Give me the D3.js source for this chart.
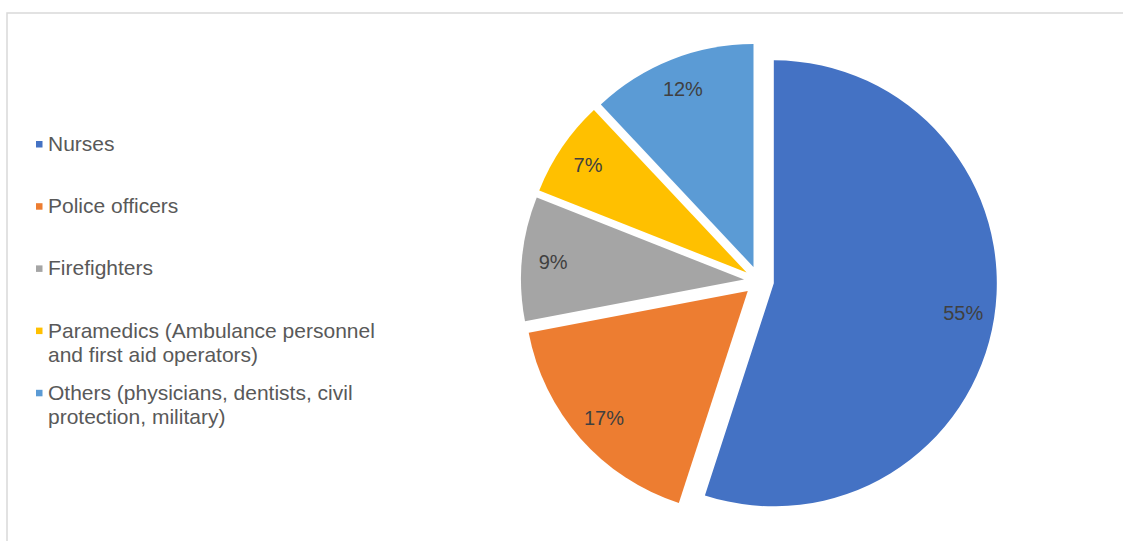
<!DOCTYPE html>
<html>
<head>
<meta charset="utf-8">
<script src="https://cdn.jsdelivr.net/npm/d3@7"></script>
<style>
  body { margin: 0; background: #fff; }
  text { font-family: "Liberation Sans", Arial, Helvetica, sans-serif; }
</style>
</head>
<body>
<div id="chart"></div>
<script>
const width = 1123
const height = 541

// data
const categories = ["Nurses", "Police officers", "Firefighters", "Paramedics (Ambulance personnel and first aid operators)", "Others (physicians, dentists, civil protection, military)"]
const legendLines = [
    ["Nurses"],
    ["Police officers"],
    ["Firefighters"],
    ["Paramedics (Ambulance personnel", "and first aid operators)"],
    ["Others (physicians, dentists, civil", "protection, military)"]
]
const values = [55, 17, 9, 7, 12]
const colors = ["#4472C4", "#ED7D31", "#A5A5A5", "#FFC000", "#5B9BD5"]

const center = {x: 759, y: 281}
const radius = 223
const explode = 15

const svg = d3.select("div#chart").append("svg").attr("width", width).attr("height", height)

// chart frame (cropped at right / bottom)
svg.append("rect")
    .attr("x", 7).attr("y", 13)
    .attr("width", width + 20).attr("height", height + 20)
    .attr("fill", "none")
    .attr("stroke", "#d9d9d9")
    .attr("stroke-width", 1.5)

const pie = d3.pie().sort(null).value(d => d)
const arc = d3.arc().innerRadius(0).outerRadius(radius)
const arcs = pie(values)

const pieGroup = svg.append("g").attr("transform", `translate(${center.x}, ${center.y})`)

const offset = d => {
    const a = (d.startAngle + d.endAngle) / 2
    return [Math.sin(a) * explode, -Math.cos(a) * explode]
}

pieGroup.selectAll("path").data(arcs).enter()
    .append("path")
    .attr("d", arc)
    .attr("fill", (d, i) => colors[i])
    .attr("transform", d => `translate(${offset(d)})`)

pieGroup.selectAll("text.label").data(arcs).enter()
    .append("text")
    .attr("class", "label")
    .attr("x", d => {
        const a = (d.startAngle + d.endAngle) / 2
        return offset(d)[0] + Math.sin(a) * radius * 0.86
    })
    .attr("y", d => {
        const a = (d.startAngle + d.endAngle) / 2
        return offset(d)[1] - Math.cos(a) * radius * 0.86
    })
    .attr("dy", "0.35em")
    .attr("text-anchor", "middle")
    .attr("font-size", 20)
    .attr("fill", "#404040")
    .text(d => d.data + "%")

// legend
const legend = svg.append("g").attr("class", "legend").attr("transform", "translate(36, 151)")
const items = legend.selectAll("g").data(categories).enter()
    .append("g")
    .attr("transform", (d, i) => `translate(0, ${i * 62.2})`)

items.append("rect")
    .attr("x", 0).attr("y", -10)
    .attr("width", 6.5).attr("height", 6.5)
    .attr("fill", (d, i) => colors[i])

items.append("text")
    .attr("x", 12)
    .attr("font-size", 21)
    .attr("fill", "#595959")
    .selectAll("tspan").data((d, i) => legendLines[i]).enter()
    .append("tspan")
    .attr("x", 12)
    .attr("dy", (d, j) => j === 0 ? 0 : 24)
    .text(d => d)
</script>
</body>
</html>
